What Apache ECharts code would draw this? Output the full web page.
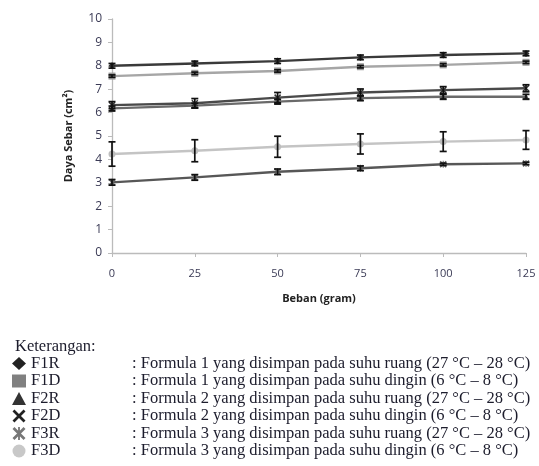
<!DOCTYPE html>
<html><head><meta charset="utf-8">
<script src="https://cdn.jsdelivr.net/npm/echarts@6/dist/echarts.min.js"></script>
<style>html,body{margin:0;padding:0;background:#fff}#c{width:539px;height:466px}</style>
</head><body><div id="c"></div>
<script>
const beban = [0, 25, 50, 75, 100, 125];
const F1R = [8.00, 8.10, 8.20, 8.36, 8.46, 8.53];
const F1D = [7.56, 7.68, 7.78, 7.96, 8.04, 8.15];
const F2R = [6.18, 6.30, 6.47, 6.62, 6.68, 6.68];
const F2D = [6.32, 6.40, 6.64, 6.86, 6.96, 7.04];
const F3R = [3.02, 3.23, 3.47, 3.62, 3.79, 3.83];
const F3D = [4.23, 4.37, 4.54, 4.66, 4.76, 4.83];
const errF1R = [0.10, 0.10, 0.10, 0.10, 0.10, 0.10];
const errF1D = [0.05, 0.05, 0.05, 0.05, 0.05, 0.05];
const errF2R = [0.10, 0.10, 0.10, 0.10, 0.10, 0.10];
const errF2D = [0.15, 0.20, 0.22, 0.15, 0.15, 0.15];
const errF3R = [0.12, 0.12, 0.12, 0.10, 0.05, 0.05];
const errF3D = [0.52, 0.47, 0.45, 0.43, 0.42, 0.40];
const names = ['F1R','F1D','F2R','F2D','F3R','F3D'];
const descs = [
 ': Formula 1 yang disimpan pada suhu ruang (27 °C – 28 °C)',
 ': Formula 1 yang disimpan pada suhu dingin (6 °C – 8 °C)',
 ': Formula 2 yang disimpan pada suhu ruang (27 °C – 28 °C)',
 ': Formula 2 yang disimpan pada suhu dingin (6 °C – 8 °C)',
 ': Formula 3 yang disimpan pada suhu ruang (27 °C – 28 °C)',
 ': Formula 3 yang disimpan pada suhu dingin (6 °C – 8 °C)'
];
const values = [F1R, F1D, F2R, F2D, F3R, F3D];
const errs = [errF1R, errF1D, errF2R, errF2D, errF3R, errF3D];

const xPath = 'path://M0,1.5L1.5,0L10,8.5L8.5,10Z M8.5,0L10,1.5L1.5,10L0,8.5Z';
const astPath = 'path://M0,1.5L1.5,0L10,8.5L8.5,10Z M8.5,0L10,1.5L1.5,10L0,8.5Z M4.3,0L5.7,0L5.7,10L4.3,10Z';
const symbols = ['diamond','rect','triangle',xPath,astPath,'circle'];
const lineColors = ['#3a3a3a','#a6a6a6','#6a6a6a','#4a4a4a','#575757','#c4c4c4'];
const markColors = ['#303030','#9a9a9a','#555555','#333333','#666666','#bdbdbd'];
const legendColors = ['#222222','#808080','#333333','#222222','#777777','#c8c8c8'];
const txtColor = '#1c1c2c';

const series = [];
names.forEach((n, i) => {
  series.push({
    name: n, type: 'line', z: 3,
    data: beban.map((x, k) => [x, values[i][k]]),
    symbol: symbols[i], symbolSize: 7, showSymbol: true,
    lineStyle: {color: lineColors[i], width: 2.4},
    itemStyle: {color: markColors[i]},
    animation: false
  });
  series.push({
    type: 'custom', z: 4, silent: true, animation: false,
    data: beban.map((x, k) => [x, values[i][k], errs[i][k]]),
    renderItem: function (params, api) {
      const x = api.value(0), y = api.value(1), e = api.value(2);
      const hi = api.coord([x, y + e]);
      const lo = api.coord([x, y - e]);
      const w = 3.5;
      const st = {stroke: '#111', lineWidth: 1.7};
      return {type: 'group', children: [
        {type: 'line', shape: {x1: hi[0], y1: hi[1], x2: lo[0], y2: lo[1]}, style: st},
        {type: 'line', shape: {x1: hi[0]-w, y1: hi[1], x2: hi[0]+w, y2: hi[1]}, style: st},
        {type: 'line', shape: {x1: lo[0]-w, y1: lo[1], x2: lo[0]+w, y2: lo[1]}, style: st}
      ]};
    }
  });
});

const chart = echarts.init(document.getElementById('c'), null, {renderer: 'canvas'});
chart.setOption({
  animation: false,
  backgroundColor: '#fff',
  title: {text: 'Keterangan:', left: 10, top: 333,
    textStyle: {fontFamily: 'Liberation Serif', fontSize: 16.5, fontWeight: 'normal', color: txtColor}},
  grid: {left: 112, right: 13, top: 19, bottom: 213},
  xAxis: {
    type: 'value', min: 0, max: 125, interval: 25,
    name: 'Beban (gram)', nameLocation: 'middle', nameGap: 40,
    nameTextStyle: {fontFamily: 'Open Sans', fontSize: 11, fontWeight: 'bold', color: '#222'},
    axisLine: {lineStyle: {color: '#bbbbbb', width: 1.3}},
    axisTick: {show: true, length: 4, lineStyle: {color: '#bbbbbb'}},
    axisLabel: {fontFamily: 'Open Sans', fontSize: 11, color: '#3a3a55', margin: 15},
    splitLine: {show: false}
  },
  yAxis: {
    type: 'value', min: 0, max: 10, interval: 1,
    name: 'Daya Sebar (cm²)', nameLocation: 'middle', nameGap: 38, nameRotate: 90,
    nameTextStyle: {fontFamily: 'Open Sans', fontSize: 11, fontWeight: 'bold', color: '#222'},
    axisLine: {show: true, lineStyle: {color: '#bbbbbb', width: 1.3}},
    axisTick: {show: true, length: 4, lineStyle: {color: '#bbbbbb'}},
    axisLabel: {fontFamily: 'Open Sans', fontSize: 12, color: '#3a3a55', margin: 10},
    splitLine: {show: false}
  },
  legend: {
    orient: 'vertical', left: 7, top: 350, height: 116, itemWidth: 14, itemHeight: 13, itemGap: 0.5,
    selectedMode: false,
    data: names.map((n, i) => ({name: n, icon: symbols[i],
      itemStyle: {color: legendColors[i], borderWidth: 0}})),
    formatter: function (name) {
      const i = names.indexOf(name);
      return '{a|' + name + '}{b|' + descs[i] + '}';
    },
    textStyle: {fontFamily: 'Liberation Serif', fontSize: 16.5, color: txtColor, lineHeight: 14,
      rich: {a: {width: 101, fontFamily: 'Liberation Serif', fontSize: 16.5, color: txtColor, lineHeight: 14},
             b: {fontFamily: 'Liberation Serif', fontSize: 16.5, color: txtColor, lineHeight: 14}}}
  },
  series: series
});
</script></body></html>
